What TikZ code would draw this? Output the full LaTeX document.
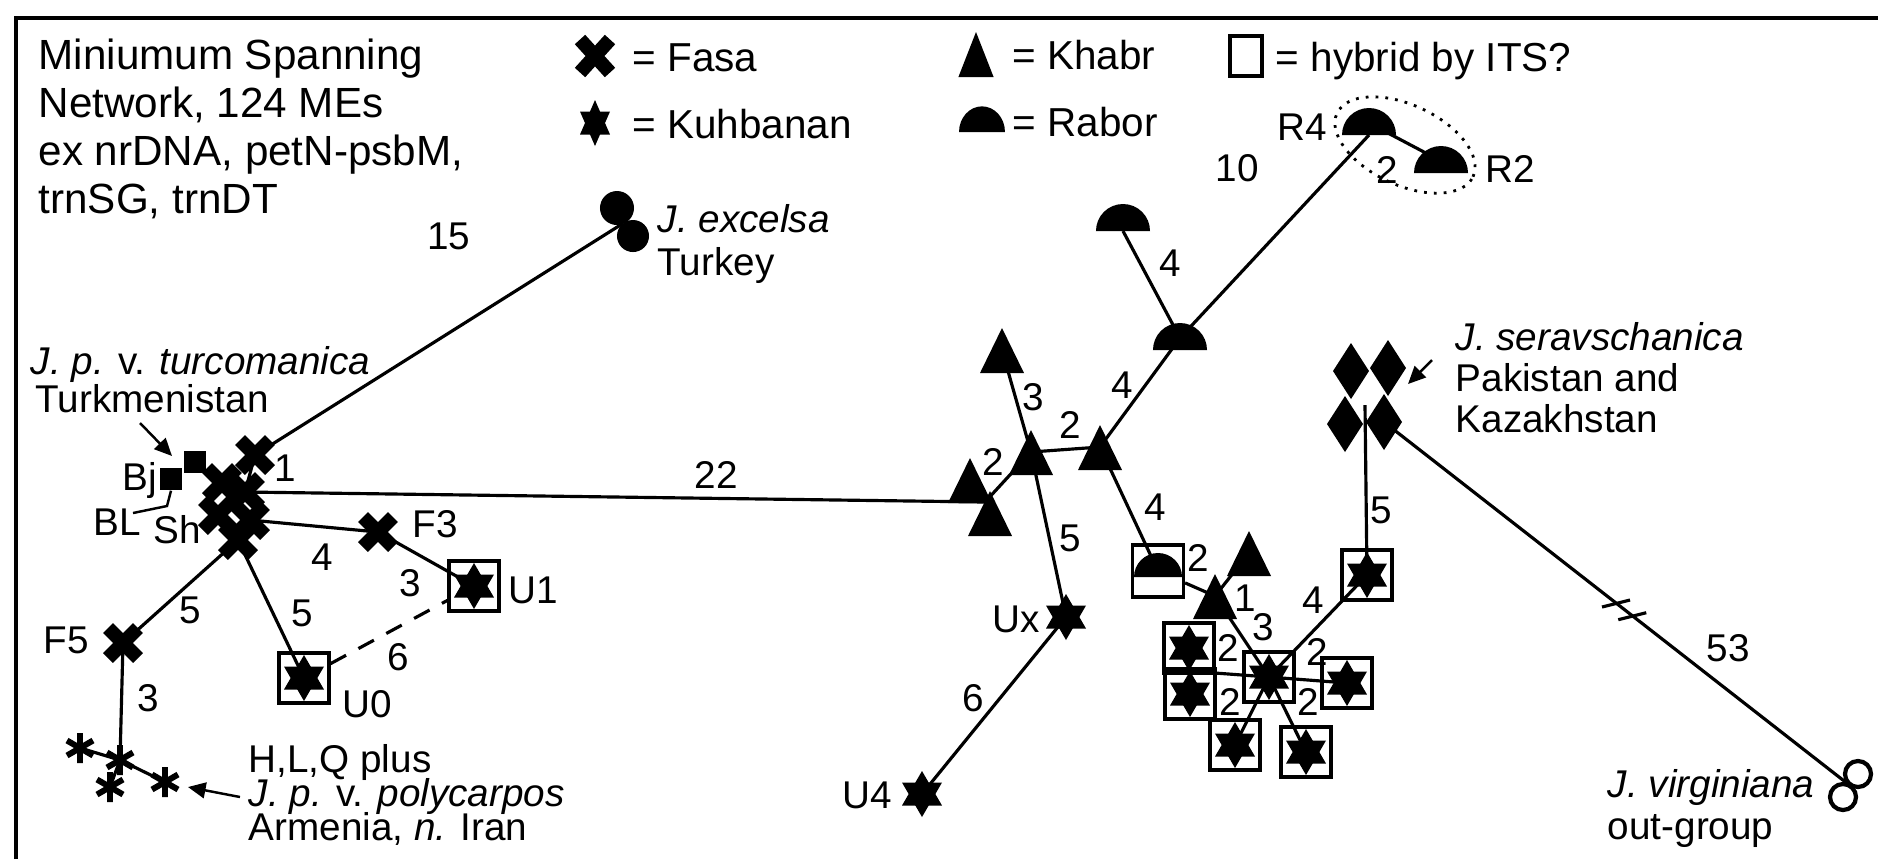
\documentclass[tikz,border=0pt]{standalone}
\usepackage{fontspec}
\setmainfont{Liberation Sans}
\usetikzlibrary{calc,shapes.geometric,arrows.meta}
\begin{document}
\begin{tikzpicture}[x=0.01cm,y=-0.01cm,
  conn/.style={line width=0.9pt},
  lbl/.style={font=\fontsize{11}{13}\selectfont, inner sep=0pt},
  lgd/.style={font=\fontsize{11.5}{13}\selectfont, inner sep=0pt, anchor=base west},
  hyb/.style={draw, line width=0.9pt, minimum size=0.5cm, inner sep=0pt},
  blk/.style={fill, minimum size=0.22cm, inner sep=0pt},
  ptr/.style={line width=0.7pt, -{Triangle[length=5pt,width=4.5pt]}},
  fasa/.pic={\draw[line width=0.14cm] (-15,-15)--(15,15) (-15,15)--(15,-15);},
  kstar/.pic={\fill (0,-23)--(20,11.5)--(-20,11.5)--cycle; \fill (0,23)--(20,-11.5)--(-20,-11.5)--cycle;},
  khabr/.pic={\fill (0,-22)--(22,23)--(-22,23)--cycle;},
  rabor/.pic={\fill (-0.27cm,0) arc[start angle=180,end angle=0,radius=0.27cm]--cycle;},
  diam/.pic={\fill (0,-28)--(18,0)--(0,28)--(-18,0)--cycle;},
  astk/.pic={\draw[line width=1.7pt] (0,-15)--(0,15) (-13,-7.5)--(13,7.5) (-13,7.5)--(13,-7.5);}
]
\useasboundingbox (0,0) rectangle (1878,859);
\fill[white] (0,0) rectangle (1878,859);
% frame
\draw[line width=1.1pt] (16,859) -- (16,18) -- (1878,18);

% title
\node[anchor=north west, inner sep=0pt, align=left, font=\fontsize{12}{13.66}\selectfont] (title) at (38,38)
 {Miniumum Spanning\\Network, 124 MEs\\ex nrDNA, petN-psbM,\\trnSG, trnDT};

% legend
\coordinate (LF) at (595,56);
\coordinate (LK) at (595,123);
\coordinate (LT) at (976,54);
\coordinate (LR) at (982,132);
\node[draw, line width=0.9pt, minimum width=0.32cm, minimum height=0.4cm, inner sep=0pt] (LH) at (1246,56) {};
\pic[yscale=1.1] at (LF) {fasa};
\pic[xscale=0.75] at (LK) {kstar};
\pic[xscale=0.8] at (LT) {khabr};
\pic[xscale=0.85,yscale=0.95] at (LR) {rabor};
\node[lgd] (tF) at (632,71) {= Fasa};
\node[lgd] (tK) at (632,138) {= Kuhbanan};
\node[lgd] (tT) at (1012,69) {= Khabr};
\node[lgd] (tR) at (1012,136) {= Rabor};
\node[lgd] (tH) at (1275,71) {= hybrid by ITS?};

% ---------- coordinates ----------
\coordinate (F1) at (255,455);
\coordinate (Fa) at (222,483);
\coordinate (Fb) at (245,492);
\coordinate (Fc) at (218,515);
\coordinate (Fd) at (250,520);
\coordinate (Fe) at (238,540);
\coordinate (F3) at (378,532);
\coordinate (F5) at (123,643);
\node[hyb] (U1) at (474,586) {};
\node[hyb] (U0) at (304,678) {};
\coordinate (A1) at (80,748);
\coordinate (A2) at (120,760);
\coordinate (A3) at (110,787);
\coordinate (A4) at (165,782);
\coordinate (E1) at (617,208);
\coordinate (E2) at (633,236);
\coordinate (EJ) at (622,224);

\coordinate (J22) at (985,502);
\coordinate (Ttop) at (1002,350);
\coordinate (Tmid) at (1031,452);
\coordinate (T3) at (1100,447);
\coordinate (TLu) at (970,480);
\coordinate (TLl) at (990,513);
\coordinate (RbT) at (1123,231);
\coordinate (RbM) at (1180,350);
\coordinate (RbMc) at (1180,338);
\coordinate (R4) at (1369,135);
\coordinate (R2) at (1441,173);
\coordinate (Ux) at (1066,617);
\coordinate (U4) at (922,794);

\node[hyb, minimum width=0.51cm, minimum height=0.52cm] (RB) at (1158,571) {};
\coordinate (Ta) at (1249,553);
\coordinate (Tb) at (1215,596);
\node[hyb] (Hc) at (1269,677) {};
\node[hyb] (HUR) at (1367,575) {};
\node[hyb] (HLu) at (1189,648) {};
\node[hyb] (HLl) at (1190,694) {};
\node[hyb] (HR) at (1347,683) {};
\node[hyb] (HBL) at (1235,745) {};
\node[hyb] (HBR) at (1306,752) {};
\coordinate (HLj) at (1188,671);
\coordinate (D1) at (1351,371);
\coordinate (D2) at (1388,368);
\coordinate (D3) at (1345,424);
\coordinate (D4) at (1384,422);
\coordinate (Dj) at (1365,405);
\coordinate (C1) at (1858,774);
\coordinate (C2) at (1843,797);
\coordinate (CJ) at (1848,784);

% ---------- connectors ----------
\draw[conn] (F1) -- (EJ);
\draw[conn] (F1) -- (Fb);
\draw[conn] (Fb) -- (J22);
\draw[conn] (Fd) -- (F3);
\draw[conn] (F3) -- (U1.center);
\draw[conn, dash pattern=on 5pt off 4pt] (U0) -- (U1);
\draw[conn] (Fe) -- (U0.center);
\draw[conn] (Fe) -- (F5);
\draw[conn] (F5) -- (A2);
\draw[conn] (A1) -- (A2) -- (A4);
\draw[conn] (A2) -- (A3);

\draw[conn] (Ttop) -- (Tmid);
\draw[conn] (Tmid) -- (T3);
\draw[conn] (Tmid) -- (J22);
\draw[conn] (Tmid) -- (Ux);
\draw[conn] (T3) -- (RbMc);
\draw[conn] (RbT) -- (RbMc);
\draw[conn] (R4) -- (RbMc);
\draw[conn] ($(R4)+(0,-12)$) -- ($(R2)+(0,-12)$);
\draw[conn] (Ux) -- (U4);
\draw[conn] (T3) -- (RB.center);
\draw[conn] (RB) -- (Tb);
\draw[conn] (Tb) -- (Ta);
\draw[conn] (Tb) -- (Hc.center);
\draw[conn] (Hc.center) -- (HUR.center);
\draw[conn] (HUR.center) -- (Dj);
\draw[conn] (Hc.center) -- (HLj);
\draw[conn] (Hc.center) -- (HR.center);
\draw[conn] (Hc.center) -- (HBL.center);
\draw[conn] (Hc.center) -- (HBR.center);
\draw[conn] (D4) -- (CJ);
% break mark
\draw[conn] ($(D4)!0.50!(CJ)+(-14,4)$) -- +(28,-7);
\draw[conn] ($(D4)!0.535!(CJ)+(-14,4)$) -- +(28,-7);

% R4/R2 ellipse
\node[draw, dotted, line width=0.8pt, ellipse, minimum width=1.5cm, minimum height=0.8cm, rotate=-25] (ell) at (1405,145) {};

% ---------- markers ----------
\pic at (F1) {fasa};
\pic at (Fa) {fasa};
\pic at (Fc) {fasa};
\pic at (Fb) {fasa};
\pic at (Fd) {fasa};
\pic at (Fe) {fasa};
\pic at (F3) {fasa};
\pic at (F5) {fasa};
\node[blk] (Tk) at (195,462) {};
\node[blk] (Bj) at (171,479) {};
\pic at (U1) {kstar};
\pic at (U0) {kstar};
\pic at (A1) {astk};
\pic at (A2) {astk};
\pic at (A3) {astk};
\pic at (A4) {astk};
\fill (E1) circle[radius=0.17cm];
\fill (E2) circle[radius=0.16cm];

\pic at (Ttop) {khabr};
\pic at (Tmid) {khabr};
\pic at (T3) {khabr};
\pic at (TLu) {khabr};
\pic at (TLl) {khabr};
\pic at (RbT) {rabor};
\pic at (RbM) {rabor};
\pic at (R4) {rabor};
\pic at (R2) {rabor};
\pic at (Ux) {kstar};
\pic at (U4) {kstar};
\fill ($(RB)+(-24,6)$) arc[start angle=180,end angle=0,radius=0.24cm] -- cycle;
\pic at (Ta) {khabr};
\pic at (Tb) {khabr};
\pic at (Hc) {kstar};
\pic at (HUR) {kstar};
\pic at (HLu) {kstar};
\pic at (HLl) {kstar};
\pic at (HR) {kstar};
\pic at (HBL) {kstar};
\pic at (HBR) {kstar};
\pic at (D1) {diam};
\pic at (D2) {diam};
\pic at (D3) {diam};
\pic at (D4) {diam};
\draw[line width=1.2pt, fill=white] (C1) circle[radius=0.13cm];
\draw[line width=1.2pt, fill=white] (C2) circle[radius=0.13cm];

% ---------- edge labels ----------
\node[lbl] (l15) at (449,236) {15};
\node[lbl] (l1) at (285,468) {1};
\node[lbl] (l22) at (716,475) {22};
\node[lbl] (l4a) at (322,557) {4};
\node[lbl] (l3a) at (410,583) {3};
\node[lbl] (l6a) at (398,657) {6};
\node[lbl] (l5a) at (302,613) {5};
\node[lbl] (l5b) at (190,610) {5};
\node[lbl] (l3b) at (148,698) {3};
\node[lbl] (l3c) at (1033,397) {3};
\node[lbl] (l2a) at (1070,425) {2};
\node[lbl] (l2b) at (993,462) {2};
\node[lbl] (l5c) at (1070,538) {5};
\node[lbl] (l4b) at (1122,385) {4};
\node[lbl] (l4c) at (1155,507) {4};
\node[lbl] (l4d) at (1170,263) {4};
\node[lbl] (l10) at (1237,168) {10};
\node[lbl] (l2c) at (1387,170) {2};
\node[lbl] (l6b) at (973,698) {6};
\node[lbl] (l2d) at (1198,558) {2};
\node[lbl] (l1b) at (1245,598) {1};
\node[lbl] (l3d) at (1263,627) {3};
\node[lbl] (l4e) at (1313,600) {4};
\node[lbl] (l5d) at (1381,510) {5};
\node[lbl] (l2e) at (1228,648) {2};
\node[lbl] (l2f) at (1230,702) {2};
\node[lbl] (l2g) at (1317,652) {2};
\node[lbl] (l2h) at (1308,702) {2};
\node[lbl] (l53) at (1728,648) {53};

% ---------- name labels ----------
\node[lbl, anchor=base west] (nF3) at (412,537) {F3};
\node[lbl, anchor=base west] (nU1) at (508,603) {U1};
\node[lbl, anchor=base west] (nU0) at (342,717) {U0};
\node[lbl, anchor=base west] (nF5) at (43,653) {F5};
\node[lbl, anchor=base east] (nBj) at (158,490) {Bj};
\node[lbl, anchor=base west] (nBL) at (93,535) {BL};
\node[lbl, anchor=base west] (nSh) at (153,543) {Sh};
\node[lbl, anchor=base west] (nExc) at (657,232) {\textit{J. excelsa}};
\node[lbl, anchor=base west] (nTur) at (657,275) {Turkey};
\node[lbl, anchor=base west] (nTc) at (30,374) {\textit{J. p.} v. \textit{turcomanica}};
\node[lbl, anchor=base west] (nTm) at (35,412) {Turkmenistan};
\node[lbl, anchor=base west] (nH) at (248,772) {H,L,Q plus};
\node[lbl, anchor=base west] (nPc) at (248,806) {\textit{J. p.} v. \textit{polycarpos}};
\node[lbl, anchor=base west] (nAr) at (248,840) {Armenia, \textit{n.} Iran};
\node[lbl, anchor=base west] (nUx) at (992,632) {Ux};
\node[lbl, anchor=base east] (nU4) at (893,808) {U4};
\node[lbl, anchor=base east] (nR4) at (1328,140) {R4};
\node[lbl, anchor=base west] (nR2) at (1485,182) {R2};
\node[lbl, anchor=base west] (nSe) at (1455,350) {\textit{J. seravschanica}};
\node[lbl, anchor=base west] (nPk) at (1455,391) {Pakistan and};
\node[lbl, anchor=base west] (nKz) at (1455,432) {Kazakhstan};
\node[lbl, anchor=base east] (nJv) at (1815,797) {\textit{J. virginiana}};
\node[lbl, anchor=base west] (nOg) at ($(nJv.base west)+(0,42)$) {out-group};

% leaders and pointers
\coordinate (BLa) at (133,513);
\coordinate (BLb) at (167,506);
\draw[line width=0.7pt] (BLa) -- (BLb) -- (Bj.south);
\coordinate (pTk) at (140,423);
\coordinate (qTk) at (172,456);
\draw[ptr] (pTk) -- (qTk);
\coordinate (pPc) at (240,797);
\coordinate (qPc) at (188,787);
\draw[ptr] (pPc) -- (qPc);
\coordinate (pSe) at (1432,360);
\coordinate (qSe) at (1408,384);
\draw[ptr] (pSe) -- (qSe);
\end{tikzpicture}
\end{document}
